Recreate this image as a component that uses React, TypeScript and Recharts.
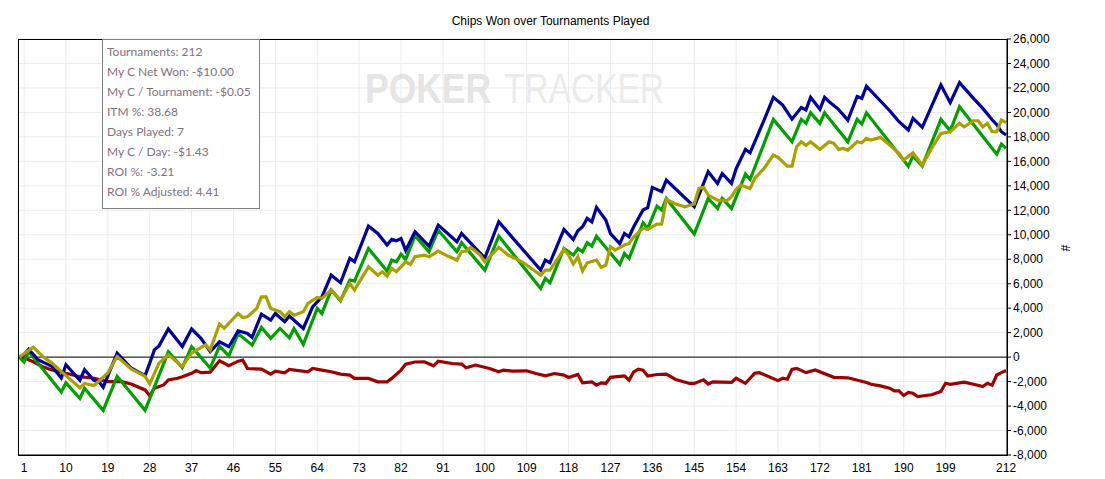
import React from 'react';
import { LineChart, Line, XAxis, YAxis, CartesianGrid, ReferenceLine } from 'recharts';

const chartTitle = 'Chips Won over Tournaments Played';
const xTicks = [1, 10, 19, 28, 37, 46, 55, 64, 73, 82, 91, 100, 109, 118, 127, 136, 145, 154, 163, 172, 181, 190, 199, 212];
const yTicks = [-8000, -6000, -4000, -2000, 0, 2000, 4000, 6000, 8000, 10000, 12000, 14000, 16000, 18000, 20000, 22000, 24000, 26000];
const statLines = [
  'Tournaments: 212',
  'My C Net Won: -$10.00',
  'My C / Tournament: -$0.05',
  'ITM %: 38.68',
  'Days Played: 7',
  'My C / Day: -$1.43',
  'ROI %: -3.21',
  'ROI % Adjusted: 4.41',
];

const blueT = [0, 1, 2, 4, 7, 9, 10, 13, 14, 16, 17, 18, 21, 24, 27, 28, 29, 30, 32, 35, 37, 39, 41, 43, 45, 47, 49, 50, 52, 54, 55, 57, 58, 61, 63, 65, 67, 69, 71, 72, 75, 77, 79, 80, 81, 82, 83, 85, 88, 90, 94, 95, 96, 100, 103, 112, 113, 114, 117, 119, 120, 121, 122, 123, 124, 126, 127, 129, 130, 131, 132, 134, 135, 136, 138, 139, 145, 148, 150, 151, 153, 154, 156, 157, 158, 160, 162, 164, 166, 168, 169, 170, 172, 173, 174, 176, 178, 180, 181, 182, 187, 189, 191, 192, 194, 198, 200, 202, 205, 207, 209, 210, 211, 212];
const blueV = [0, 200, 650, -220, -760, -1700, -620, -1890, -1030, -1890, -1970, -2460, 320, -890, -1510, -490, 590, 920, 2300, 860, 2300, 1540, 460, 1250, 850, 2150, 1930, 1610, 3520, 3020, 3570, 2890, 3350, 2340, 4110, 4930, 6700, 6080, 8070, 7790, 10710, 10110, 9160, 9620, 9500, 9700, 8720, 10250, 9070, 10790, 9430, 10110, 9700, 8100, 11060, 7110, 7930, 7710, 10440, 9620, 10330, 10650, 11340, 11060, 12240, 11200, 10100, 9270, 10110, 9840, 10650, 12020, 12210, 13870, 13520, 14470, 12290, 15150, 14200, 15010, 14200, 15400, 16980, 16700, 17600, 19370, 21230, 20600, 19450, 20400, 20200, 21230, 20250, 21230, 20870, 20250, 19370, 21300, 21150, 22150, 20140, 19240, 18560, 19510, 18780, 22240, 20790, 22430, 21150, 20330, 19400, 19000, 18420, 18150];

const greenT = [0, 1, 2, 9, 10, 13, 14, 18, 21, 27, 32, 35, 37, 41, 43, 45, 47, 50, 52, 54, 56, 58, 59, 61, 64, 65, 67, 69, 71, 72, 75, 79, 80, 81, 82, 83, 85, 88, 90, 94, 95, 100, 103, 112, 113, 114, 117, 119, 120, 121, 122, 123, 124, 129, 130, 131, 134, 135, 137, 138, 139, 145, 148, 150, 151, 153, 156, 157, 162, 166, 168, 169, 170, 172, 173, 178, 180, 181, 182, 191, 192, 194, 198, 200, 202, 210, 211, 212];
const greenV = [0, -400, 460, -2860, -2100, -3380, -2540, -4350, -1570, -4350, 430, -860, 860, -900, 900, 100, 1930, 980, 2430, 1530, 2340, 1580, 2340, 1040, 3980, 3570, 5480, 4610, 6300, 6210, 8880, 7030, 7930, 7790, 8420, 7980, 9930, 8610, 10380, 8610, 9350, 7110, 9890, 5610, 6430, 6080, 8880, 8340, 8880, 8610, 9350, 9070, 9890, 7580, 8470, 8070, 10980, 10520, 12340, 12020, 12970, 10060, 12970, 12150, 12970, 12150, 14960, 14520, 19430, 17600, 19430, 19100, 19970, 19100, 19970, 17600, 19430, 19050, 19970, 15610, 16430, 15610, 19430, 18500, 20460, 16590, 17410, 17060];

const oliveT = [0, 3, 5, 7, 10, 13, 14, 16, 19, 21, 24, 27, 28, 30, 32, 35, 37, 40, 41, 43, 44, 47, 48, 49, 51, 52, 53, 54, 56, 57, 58, 59, 61, 62, 64, 65, 67, 69, 71, 72, 75, 77, 78, 79, 80, 81, 83, 84, 85, 87, 88, 90, 92, 94, 95, 96, 97, 99, 100, 103, 105, 108, 112, 113, 114, 117, 118, 119, 120, 121, 122, 124, 125, 126, 127, 128, 130, 131, 132, 134, 135, 137, 138, 139, 141, 143, 145, 146, 147, 148, 150, 152, 153, 154, 155, 157, 158, 160, 162, 163, 165, 166, 167, 168, 169, 170, 172, 174, 175, 176, 177, 178, 180, 181, 182, 183, 185, 187, 189, 190, 192, 194, 196, 198, 200, 202, 203, 205, 206, 207, 208, 209, 210, 211, 212];
const oliveV = [0, 810, 50, -490, -1510, -2510, -2160, -2320, -1300, 50, -970, -1570, -2190, -490, 190, -760, 320, 1000, 590, 2700, 2350, 3570, 3240, 3300, 3980, 4930, 4930, 3980, 3710, 3300, 3710, 3430, 3710, 4390, 4880, 4800, 5480, 4660, 6020, 5480, 7380, 6700, 6980, 6620, 7250, 6980, 7790, 7580, 8200, 8340, 8200, 8670, 8260, 7930, 8610, 8670, 8970, 8340, 7790, 8970, 8340, 7790, 6700, 7110, 7110, 8800, 8340, 7600, 8200, 7030, 7710, 7930, 7330, 7520, 9020, 8750, 9160, 9290, 9840, 10520, 10440, 10870, 10870, 12890, 12510, 12290, 12510, 13790, 13870, 13240, 12830, 12780, 13110, 13710, 14060, 13790, 14610, 15420, 16510, 16320, 15610, 15610, 17200, 17600, 17300, 17600, 16980, 17600, 17470, 16980, 17060, 16920, 17600, 17520, 17880, 17740, 17960, 17330, 16650, 16100, 16700, 15700, 17060, 18290, 18420, 19100, 18830, 19320, 19320, 18830, 19100, 18420, 18420, 19370, 19160];

const redT = [0, 1, 3, 5, 7, 10, 13, 16, 19, 22, 24, 27, 28, 29, 31, 32, 34, 35, 37, 38, 39, 41, 43, 45, 47, 48, 49, 52, 54, 55, 57, 58, 62, 63, 65, 67, 69, 71, 72, 75, 77, 79, 80, 82, 83, 85, 87, 89, 90, 93, 95, 96, 98, 101, 103, 104, 106, 109, 111, 113, 115, 117, 118, 120, 121, 123, 124, 125, 126, 127, 130, 131, 132, 133, 134, 135, 137, 139, 141, 144, 145, 147, 148, 149, 153, 154, 156, 158, 159, 163, 164, 165, 166, 167, 169, 171, 175, 178, 182, 183, 185, 187, 188, 189, 190, 191, 192, 193, 196, 198, 199, 200, 203, 205, 207, 208, 209, 210, 211, 212];
const redV = [0, -50, -380, -780, -1050, -1320, -1600, -1730, -2000, -2000, -2190, -2680, -3160, -2540, -2270, -1860, -1730, -1600, -1320, -1100, -1270, -1230, -300, -700, -330, -250, -930, -980, -1390, -1140, -1280, -1010, -1200, -930, -1060, -1200, -1390, -1470, -1740, -1740, -2020, -2020, -1740, -1060, -570, -400, -380, -710, -330, -520, -570, -870, -650, -930, -1200, -1060, -1140, -1120, -1340, -1530, -1340, -1470, -1660, -1420, -2100, -2020, -2290, -2100, -2150, -1650, -1530, -1880, -1200, -980, -1060, -1550, -1420, -1390, -1830, -2150, -2150, -1850, -2200, -2020, -2070, -1730, -2140, -1320, -1270, -1920, -1730, -1810, -1000, -920, -1270, -1050, -1650, -1690, -2080, -2220, -2350, -2540, -2760, -2760, -3140, -2890, -2950, -3220, -3080, -2810, -2140, -2220, -2050, -2220, -2410, -2140, -2290, -1460, -1270, -1100];

const toData = (ts: number[], vs: number[]) => ts.map((t, i) => ({ t, v: vs[i] }));

const blueData = toData(blueT, blueV);
const greenData = toData(greenT, greenV);
const oliveData = toData(oliveT, oliveV);
const redData = toData(redT, redV);

const axisFont = "'Liberation Sans', Arial, sans-serif";

export default function App() {
  return (
    <div style={{ position: 'absolute', left: 0, top: 0, width: 1105, height: 479, background: '#fff', fontFamily: axisFont }}>
      <LineChart width={1105} height={479} margin={{ top: 39, left: 18, right: 38, bottom: 4 }}>
        <CartesianGrid stroke="#ececec" strokeWidth={1} />
        <XAxis
          type="number"
          dataKey="t"
          domain={[-0.3, 212.2]}
          ticks={xTicks}
          interval={0}
          allowDataOverflow
          height={20}
          tickLine={false}
          tickSize={4}
          tickMargin={4}
          axisLine={{ stroke: '#000' }}
          tick={{ fontSize: 12, fill: '#000', fontFamily: axisFont }}
        />
        <YAxis
          orientation="right"
          type="number"
          domain={[-8000, 26000]}
          ticks={yTicks}
          interval={0}
          width={60}
          tickSize={4}
          tickMargin={2}
          axisLine={{ stroke: '#000' }}
          tickLine={{ stroke: '#000' }}
          tick={{ fontSize: 12, fill: '#000', fontFamily: axisFont }}
          tickFormatter={(v: number) => v.toLocaleString('en-US')}
        />
        <ReferenceLine y={0} stroke="#000" strokeWidth={1} />
        <Line data={redData} dataKey="v" type="linear" stroke="#a00000" strokeWidth={3.2} dot={false} isAnimationActive={false} />
        <Line data={greenData} dataKey="v" type="linear" stroke="#00a000" strokeWidth={3.2} dot={false} isAnimationActive={false} />
        <Line data={blueData} dataKey="v" type="linear" stroke="#0000a0" strokeWidth={3.2} dot={false} isAnimationActive={false} />
        <Line data={oliveData} dataKey="v" type="linear" stroke="#aaa000" strokeWidth={3.2} dot={false} isAnimationActive={false} />
      </LineChart>

      <div style={{ position: 'absolute', left: 0, top: 14, width: 1101, textAlign: 'center', fontSize: 12, lineHeight: '14px', color: '#000' }}>
        {chartTitle}
      </div>

      <svg width={1105} height={479} style={{ position: 'absolute', left: 0, top: 0, pointerEvents: 'none' }}>
        <text x={365} y={103} fontSize={43} fontWeight="bold" fill="#e5e5e5" textLength={126} lengthAdjust="spacingAndGlyphs" fontFamily={axisFont}>POKER</text>
        <text x={504} y={103} fontSize={43} fill="#ebebeb" textLength={160} lengthAdjust="spacingAndGlyphs" fontFamily={axisFont}>TRACKER</text>
      </svg>

      <div style={{ position: 'absolute', left: 18, top: 39, width: 990, height: 417, border: '1px solid #000', boxSizing: 'border-box', pointerEvents: 'none' }} />

      <div style={{ position: 'absolute', left: 102, top: 39, width: 158, height: 170, border: '1px solid #808080', boxSizing: 'border-box', background: '#fff', paddingTop: 2, paddingLeft: 4, fontFamily: "Lato, 'Open Sans', sans-serif", fontSize: 12, lineHeight: '20px', color: '#80737f' }}>
        {statLines.map((s) => (
          <div key={s} style={{ whiteSpace: 'nowrap' }}>{s}</div>
        ))}
      </div>

      <div style={{ position: 'absolute', left: 1059, top: 241, width: 12, height: 14, lineHeight: '14px', textAlign: 'center', fontSize: 12, transform: 'rotate(90deg)', color: '#000' }}>
        #
      </div>
    </div>
  );
}
